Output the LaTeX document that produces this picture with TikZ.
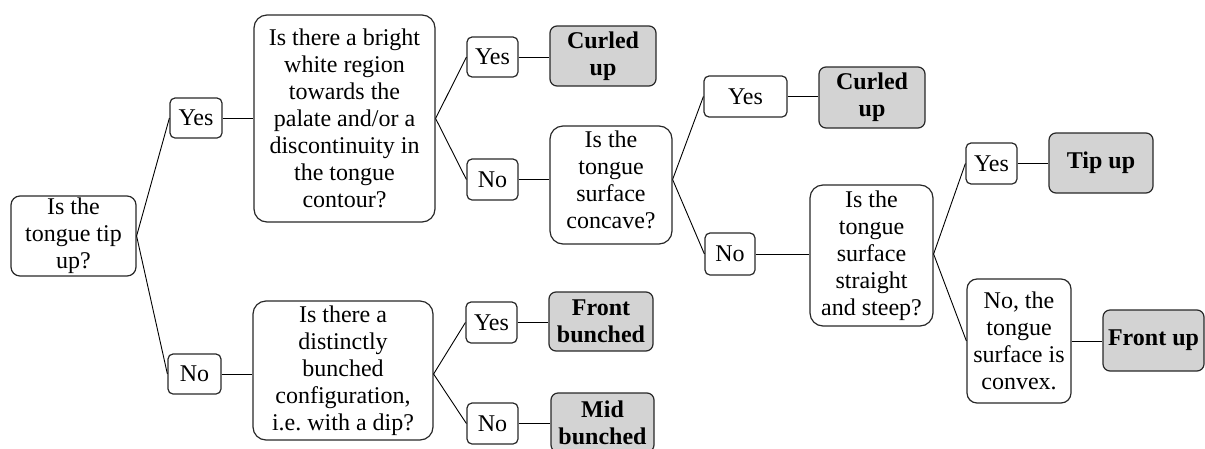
\documentclass[tikz,border=0pt]{standalone}
\usepackage{fontspec}
\setmainfont{Liberation Serif}
\frenchspacing
\definecolor{resgray}{RGB}{211,211,211}
\definecolor{edgegray}{RGB}{40,40,40}
\newcommand{\lowpad}[1]{\rule[-#1]{0pt}{#1}}
\tikzset{
  box/.style={draw=edgegray, line width=1.2pt, fill=white, inner sep=0pt, align=center,
              font=\fontsize{24}{27}\selectfont},
  qbox/.style={box, rounded corners=13pt},
  abox/.style={box, rounded corners=5pt},
  rbox/.style={box, rounded corners=7pt, fill=resgray, font=\fontsize{24}{27}\selectfont\bfseries},
  link/.style={draw=black, line width=0.9pt},
}
\begin{document}
\begin{tikzpicture}[x=1pt,y=-1pt]
\path[use as bounding box, clip] (0,0) rectangle (1205,448);

% root
\node[qbox, rounded corners=9pt, minimum width=125pt, minimum height=80pt] (root) at (73.5,236) {Is the\\tongue tip\\up?};

% upper branch
\node[abox, minimum width=52pt, minimum height=40pt] (yes1) at (196,118) {Yes};
\node[qbox, minimum width=181pt, minimum height=207pt] (q1) at (344.5,118.5)
  {Is there a bright\\white region\\towards the\\palate and/or a\\discontinuity in\\the tongue\\contour?};
\node[abox, minimum width=51pt, minimum height=40pt] (yes2) at (492.5,57) {Yes};
\node[rbox, minimum width=106pt, minimum height=60pt] (curled1) at (603,56) {Curled\\up};
\node[abox, minimum width=51pt, minimum height=41pt] (no2) at (492.5,179.5) {No};
\node[qbox, minimum width=122pt, minimum height=118pt] (q3) at (611,185)
  {Is the\\tongue\\surface\\concave?\lowpad{10pt}};
\node[abox, minimum width=83pt, minimum height=41pt] (yes3) at (745.5,96.5) {Yes};
\node[rbox, minimum width=106pt, minimum height=61pt] (curled2) at (872,97.5) {Curled\\up};
\node[abox, minimum width=50pt, minimum height=42pt] (no3) at (730,254) {No};
\node[qbox, minimum width=123pt, minimum height=141pt] (q4) at (871.5,255.5)
  {Is the\\tongue\\surface\\straight\\and steep?};
\node[abox, minimum width=51pt, minimum height=41pt] (yes4) at (991.5,163.5) {Yes};
\node[rbox, minimum width=104pt, minimum height=60pt] (tipup) at (1101,163) {Tip up};
\node[qbox, rounded corners=10pt, minimum width=104pt, minimum height=124pt] (convex) at (1019,341)
  {No, the\\tongue\\surface is\\convex.};
\node[rbox, minimum width=101pt, minimum height=61pt] (frontup) at (1153.5,340.5) {Front up};

% lower branch
\node[abox, minimum width=53pt, minimum height=40pt] (no1) at (194.5,374) {No};
\node[qbox, minimum width=180pt, minimum height=139pt] (q2) at (343,370.5)
  {Is there a\\distinctly\\bunched\\configuration,\\i.e. with a dip?};
\node[abox, minimum width=51pt, minimum height=41pt] (yes5) at (491.5,322.5) {Yes};
\node[rbox, minimum width=104pt, minimum height=59pt] (frontb) at (601,321.5) {Front\\bunched};
\node[abox, minimum width=51pt, minimum height=41pt] (no5) at (492.5,423.5) {No};
\node[rbox, minimum width=103pt, minimum height=59pt] (midb) at (602.5,422.5) {Mid\\bunched};

% fork points
\coordinate (f3) at (q3.east |- no2.east);
\coordinate (f4) at (q4.east |- no3.east);
\coordinate (f2) at (q2.east |- no1.east);

% connectors
\draw[link] (root.east) -- (yes1.west);
\draw[link] (root.east) -- (no1.west);
\draw[link] (yes1.east) -- (yes1.east -| q1.west);
\draw[link] (q1.east) -- (yes2.west);
\draw[link] (q1.east) -- (no2.west);
\draw[link] (yes2.east) -- (yes2.east -| curled1.west);
\draw[link] (no2.east) -- (no2.east -| q3.west);
\draw[link] (f3) -- (yes3.west);
\draw[link] (f3) -- (no3.west);
\draw[link] (yes3.east) -- (yes3.east -| curled2.west);
\draw[link] (no3.east) -- (no3.east -| q4.west);
\draw[link] (f4) -- (yes4.west);
\draw[link] (f4) -- (convex.west);
\draw[link] (yes4.east) -- (yes4.east -| tipup.west);
\draw[link] (convex.east) -- (convex.east -| frontup.west);
\draw[link] (no1.east) -- (no1.east -| q2.west);
\draw[link] (f2) -- (yes5.west);
\draw[link] (f2) -- (no5.west);
\draw[link] (yes5.east) -- (yes5.east -| frontb.west);
\draw[link] (no5.east) -- (no5.east -| midb.west);
\end{tikzpicture}
\end{document}
